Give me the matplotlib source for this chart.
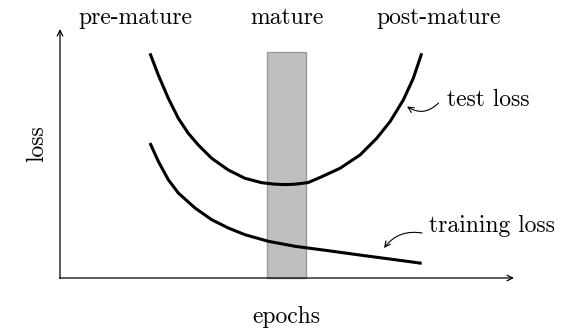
import matplotlib
matplotlib.use("Agg")
import matplotlib.pyplot as plt
from matplotlib.patches import Rectangle

plt.rcParams['font.family'] = ['cmr10', 'DejaVu Serif']
plt.rcParams['axes.formatter.use_mathtext'] = True

# curves (pixel coords, y down)
test_x = [150, 158.3, 168.3, 178.3, 188.3, 198.3, 211.7, 228.3, 245, 261.7, 275, 285, 295,
          308, 320, 340, 360, 376.7, 390, 403.3, 413.3, 421.7]
test_y = [53.3, 75, 98.3, 118.3, 133.3, 145, 158.3, 170, 178.3, 182.7, 184.2, 184.6, 184.2,
          182.6, 177.5, 168.3, 155, 138.3, 121.7, 100, 78.3, 53.3]
train_x = [150, 158.3, 168.3, 178.3, 195, 211.7, 228.3, 245, 268.3, 295, 328.3, 361.7, 395, 421.7]
train_y = [143, 161.3, 179.7, 193, 208, 219.7, 228, 234.7, 241.3, 246.3, 250.7, 255.3, 259.7, 263.3]

phases = ["pre-mature", "mature", "post-mature"]
phase_x = [135, 287, 439]
mature_band = (267, 305.5)

fig = plt.figure(figsize=(5.73, 3.32), dpi=100)
ax = fig.add_axes([0, 0, 1, 1])
ax.set_xlim(0, 573)
ax.set_ylim(332, 0)
ax.axis('off')

ax.add_patch(Rectangle((mature_band[0], 52), mature_band[1] - mature_band[0], 278 - 52,
                       facecolor='#bfbfbf', edgecolor='#999999', lw=1, zorder=1))

# axes arrows
ax.annotate('', xy=(60, 29), xytext=(60, 278.5),
            arrowprops=dict(arrowstyle='->', lw=0.9, color='black', shrinkA=0, shrinkB=0))
ax.annotate('', xy=(514, 278), xytext=(59.5, 278),
            arrowprops=dict(arrowstyle='->', lw=0.9, color='black', shrinkA=0, shrinkB=0))

ax.plot(test_x, test_y, color='black', lw=2.2, solid_capstyle='butt',
        solid_joinstyle='round', zorder=3)
ax.plot(train_x, train_y, color='black', lw=2.2, solid_capstyle='butt',
        solid_joinstyle='round', zorder=3)

fs = 17
for name, x in zip(phases, phase_x):
    ax.text(x, 24, name, ha='center', va='baseline', fontsize=fs)

ax.text(286, 323, "epochs", ha='center', va='baseline', fontsize=fs)
ax.text(37, 144, "loss", ha='center', va='center', fontsize=fs, rotation=90)

ax.text(447, 106, "test loss", ha='left', va='baseline', fontsize=fs)
ax.text(429, 232, "training loss", ha='left', va='baseline', fontsize=fs)

ax.annotate('', xy=(407, 106.5), xytext=(438.5, 103),
            arrowprops=dict(arrowstyle='->', lw=0.8, color='black',
                            connectionstyle='arc3,rad=-0.4', shrinkA=0, shrinkB=0))
ax.annotate('', xy=(384, 248), xytext=(422, 233),
            arrowprops=dict(arrowstyle='->', lw=0.8, color='black',
                            connectionstyle='arc3,rad=0.3', shrinkA=0, shrinkB=0))

fig.savefig("out.png", dpi=100)
